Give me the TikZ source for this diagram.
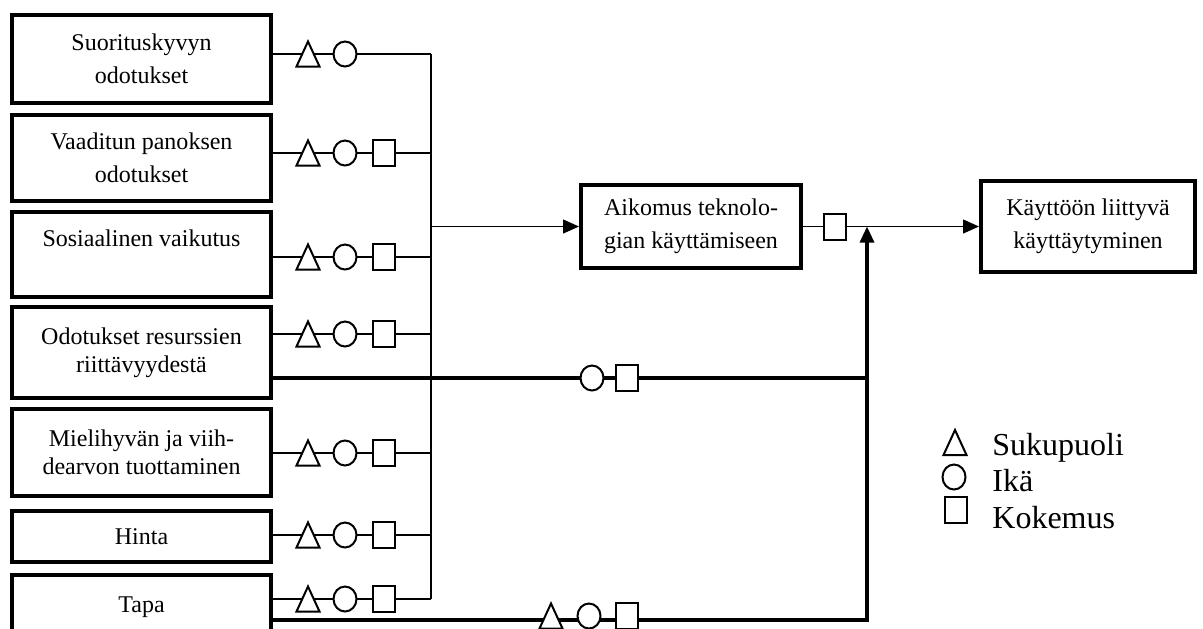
\documentclass[tikz,border=0pt]{standalone}
\usepackage{fontspec}
\setmainfont{Liberation Serif}
\usetikzlibrary{arrows.meta,shapes.geometric,positioning}
\tikzset{
  factor/.style ={draw, line width=2pt, align=center, inner sep=2pt,
                  minimum width=129.5pt, font=\fontsize{12}{16.5}\selectfont},
  result/.style ={factor, minimum width=110pt, minimum height=41.5pt},
  sym/.style    ={draw, line width=1pt, fill=white},
  agemark/.style={sym, ellipse, inner sep=0pt,
                  minimum width=11.5pt, minimum height=12.5pt},
  expmark/.style={sym, rectangle, inner sep=0pt,
                  minimum width=11pt, minimum height=13pt},
  trimark/.pic  ={\draw[sym, line join=miter]
                  (-11.5,12.5) -- (11.5,12.5) -- (0,-12.5) -- cycle;},
  conn/.style   ={line width=0.6pt},
  thk/.style    ={line width=1.6pt},
  arr/.style    ={-{Triangle[length=8pt,width=7pt]}},
  legtxt/.style ={anchor=base west, inner sep=0pt,
                  font=\fontsize{16}{19}\selectfont},
}
\begin{document}
\begin{tikzpicture}[x=0.5pt, y=-0.5pt]
  \useasboundingbox (0,0) rectangle (1203,628);
  \clip (0,0) rectangle (1203,628);

  % determinants
  \node[factor, minimum height=44pt] (f1) at (141.5,59)
        {Suorituskyvyn\\odotukset};
  \node[factor, minimum height=43pt, below=4pt of f1] (f2)
        {Vaaditun panoksen\\odotukset};
  \node[factor, minimum height=42.5pt, below=3.5pt of f2] (f3)
        {Sosiaalinen vaikutus\\~};
  \node[factor, minimum height=45.5pt, below=3pt of f3] (f4)
        {Odotukset resurssien\\[-2.5pt]riittävyydestä};
  \node[factor, minimum height=43.5pt, below=3.5pt of f4] (f5)
        {Mielihyvän ja viih-\\[-2.5pt]dearvon tuottaminen};
  \node[factor, minimum height=25.5pt, below=5.5pt of f5] (f6) {Hinta};
  \node[factor, minimum height=32pt, below=4.5pt of f6] (f7) {Tapa};

  \node[result] (aim) at (691,226.5) {Aikomus teknolo-\\gian käyttämiseen};
  \node[result, minimum width=107pt, minimum height=45.5pt,
        right=88pt of aim] (beh) {Käyttöön liittyvä\\käyttäytyminen};

  % moderators on each path
  \foreach \i/\y in {1/54,2/153,3/257,4/334,5/453,6/535,7/599}{
    \coordinate (j\i) at (431,\y);
    \draw[conn] (f\i.east |- j\i) -- (j\i);
    \pic (t\i) at (308,\y) {trimark};
    \node[agemark] (a\i) at (345,\y) {};
    \ifnum\i>1 \node[expmark] (e\i) at (384,\y) {};\fi
  }
  \coordinate (jin) at (431,226.5);
  \draw[conn] (j1) -- (j7);
  \draw[conn, arr] (jin) -- (aim);

  \node[expmark] (ims) at (835,226.5) {};
  \draw[conn] (aim) -- (ims);
  \draw[conn, arr] (ims) -- (beh);

  \coordinate (jr) at (867,378);
  \coordinate (jd) at (867,620);
  \coordinate (jm) at (867,226.5);
  \draw[thk] (f4.east |- jr) -- (jr);
  \draw[thk, arr] (f7.east |- jd) -- (jd) -- (jm);
  \node[agemark] (ra) at (592,378) {};
  \node[expmark] (re) at (627,378) {};
  \pic (dt) at (551,616) {trimark};
  \node[agemark] (da) at (589,616) {};
  \node[expmark] (de) at (627,616) {};

  % legend
  \pic (lt) at (955,442.5) {trimark};
  \node[agemark] (la) at (954,477) {};
  \node[expmark] (le) at (955.5,509.5) {};
  \node[legtxt] (lsuk) at (992,455) {Sukupuoli};
  \node[legtxt] (lika) at (992,491) {Ikä};
  \node[legtxt] (lkok) at (992,528) {Kokemus};
\end{tikzpicture}
\end{document}
